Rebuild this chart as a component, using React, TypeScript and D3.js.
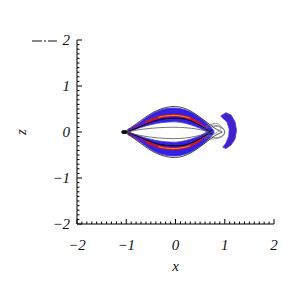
import { scaleLinear, line, area, curveCatmullRom, curveLinearClosed } from "d3";

// upper half of the lens-shaped density band (lower half is mirrored)
const bandX = [-1.02, -0.9, -0.7, -0.5, -0.3, -0.1, 0.1, 0.3, 0.5, 0.65, 0.78];
const bandOuter = [0, 0.08, 0.23, 0.38, 0.48, 0.52, 0.51, 0.44, 0.31, 0.18, 0.03];
const bandInner = [0, 0.03, 0.1, 0.16, 0.2, 0.22, 0.21, 0.16, 0.08, 0.0, 0.0];

// hot core of the band
const coreX = [-0.95, -0.7, -0.5, -0.3, -0.1, 0.1, 0.3, 0.5, 0.65];
const coreZ = [0.03, 0.15, 0.26, 0.33, 0.36, 0.35, 0.29, 0.18, 0.08];
const redX = [-0.6, -0.4, -0.2, 0, 0.2, 0.4, 0.52];
const redZ = [0.21, 0.3, 0.35, 0.36, 0.33, 0.24, 0.16];
const orangeX = [-0.35, -0.2, 0, 0.2, 0.3];
const orangeZ = [0.32, 0.35, 0.36, 0.33, 0.3];

// field lines
const outerX = [-1.05, -0.9, -0.7, -0.5, -0.3, -0.1, 0.1, 0.3, 0.5, 0.65, 0.8, 0.95];
const outerZ = [0, 0.1, 0.25, 0.4, 0.5, 0.55, 0.54, 0.46, 0.32, 0.2, 0.08, 0.0];
const midX = [-1.0, -0.8, -0.6, -0.4, -0.2, 0, 0.2, 0.4, 0.6, 0.75];
const midZ = [0, 0.08, 0.17, 0.25, 0.29, 0.3, 0.28, 0.2, 0.08, -0.05];
const innerX = [-1.0, -0.8, -0.5, -0.2, 0.1, 0.4, 0.6, 0.75];
const innerZ = [0, 0.04, 0.08, 0.1, 0.1, 0.07, 0.03, 0];

const loopX = [0.55, 0.7, 0.85, 0.97, 1.0, 0.95, 0.85, 0.7, 0.55];
const loopZ = [0.12, 0.15, 0.14, 0.08, 0, -0.08, -0.12, -0.1, -0.05];
const loop2X = [0.6, 0.75, 0.88, 0.93, 0.88, 0.75, 0.62];
const loop2Z = [-0.1, -0.06, 0.02, 0.1, 0.17, 0.18, 0.1];

// crescent on the right
const crescX = [0.92, 1.025, 1.13, 1.21, 1.24, 1.21, 1.13, 1.025, 0.96, 1.025, 1.08, 1.09, 1.045, 0.96];
const crescZ = [0.35, 0.42, 0.37, 0.22, 0.04, -0.15, -0.28, -0.36, -0.33, -0.24, -0.09, 0.065, 0.22, 0.3];
const crescMidX = [1.0, 1.1, 1.16, 1.17, 1.13, 1.04];
const crescMidZ = [0.36, 0.28, 0.12, -0.05, -0.2, -0.3];

const majorTicks = [-2, -1, 0, 1, 2];

const zip = (xs: number[], zs: number[], s = 1) => xs.map((v, i) => [v, zs[i] * s] as [number, number]);

export default function App() {
  const W = 293, H = 285;
  const x = scaleLinear().domain([-2, 2]).range([77, 274]);
  const z = scaleLinear().domain([-2, 2]).range([224, 40]);
  const ln = line<[number, number]>().x(d => x(d[0])).y(d => z(d[1])).curve(curveCatmullRom);
  const band = (s: number) =>
    area<number>()
      .x((_, i) => x(bandX[i]))
      .y0((_, i) => z(bandInner[i] * s))
      .y1((_, i) => z(bandOuter[i] * s))
      .curve(curveCatmullRom)(bandX);
  const cresc = line<[number, number]>().x(d => x(d[0])).y(d => z(d[1])).curve(curveLinearClosed);
  const minor = x.ticks(40);
  const font = "'Liberation Serif', 'DejaVu Serif', serif";

  return (
    <svg width={W} height={H} style={{ position: "absolute", left: 0, top: 0, background: "#fff" }}>
      {/* density bands */}
      {[1, -1].map(s => (
        <g key={s}>
          <path d={band(s) ?? ""} fill="#3421e0" stroke="#4a3cf0" strokeWidth={0.8} />
          <path d={ln(zip(coreX, coreZ, s)) ?? ""} fill="none" stroke="#6a1cb8" strokeWidth={3.5} />
          <path d={ln(zip(redX, redZ, s)) ?? ""} fill="none" stroke="#d0141a" strokeWidth={2.2} />
          <path d={ln(zip(orangeX, orangeZ, s)) ?? ""} fill="none" stroke="#ff8a10" strokeWidth={1} />
        </g>
      ))}
      <path d={cresc(zip(crescX, crescZ)) ?? ""} fill="#3a22d8" stroke="#4a3cf0" strokeWidth={0.8} />
      <path d={ln(zip(crescMidX, crescMidZ)) ?? ""} fill="none" stroke="#5a1ab0" strokeWidth={1.5} />

      {/* field lines */}
      {[1, -1].map(s => (
        <g key={"f" + s} fill="none">
          <path d={ln(zip(outerX, outerZ, s)) ?? ""} stroke="#333" strokeWidth={0.9} />
          <path d={ln(zip(midX, midZ, s)) ?? ""} stroke="#000" strokeWidth={1} />
          <path d={ln(zip(innerX, innerZ, s * (s < 0 ? 1.4 : 1))) ?? ""} stroke="#555" strokeWidth={0.8} />
          <path d={ln(zip(loopX, loopZ, s)) ?? ""} stroke="#666" strokeWidth={0.7} />
        </g>
      ))}
      <path d={ln(zip(loop2X, loop2Z)) ?? ""} fill="none" stroke="#777" strokeWidth={0.7} />
      <ellipse cx={x(-1.04)} cy={z(0)} rx={3} ry={2} fill="#111" />

      {/* stray dash-dot line */}
      <line x1={32} x2={57} y1={41} y2={41} stroke="#888" strokeWidth={2} strokeDasharray="10 2 2 2" />

      {/* axes */}
      <line x1={x(-2)} x2={x(2)} y1={z(-2)} y2={z(-2)} stroke="#000" />
      <line x1={x(-2)} x2={x(-2)} y1={z(-2)} y2={z(2)} stroke="#000" />
      {minor.map(t => {
        const major = majorTicks.some(m => Math.abs(m - t) < 1e-6);
        const len = major ? 5 : 2.5;
        return (
          <g key={"t" + t} stroke="#000" strokeWidth={1}>
            <line x1={x(t)} x2={x(t)} y1={z(-2)} y2={z(-2) - len} />
            <line x1={x(-2)} x2={x(-2) + len} y1={z(t)} y2={z(t)} />
          </g>
        );
      })}
      {majorTicks.map(t => (
        <text key={"xl" + t} x={x(t)} y={250} textAnchor="middle" fontFamily={font} fontStyle="italic" fontSize={15} fill="#111">
          {t < 0 ? "\u2212" + Math.abs(t) : t}
        </text>
      ))}
      {majorTicks.map(t => (
        <text key={"yl" + t} x={70} y={z(t) + 5} textAnchor="end" fontFamily={font} fontStyle="italic" fontSize={15} fill="#111">
          {t < 0 ? "\u2212" + Math.abs(t) : t}
        </text>
      ))}
      <text x={x(0)} y={271} textAnchor="middle" fontFamily={font} fontStyle="italic" fontSize={15} fill="#111">x</text>
      <text transform={`translate(26,${z(0)}) rotate(-90)`} textAnchor="middle" fontFamily={font} fontStyle="italic" fontSize={15} fill="#111">z</text>
    </svg>
  );
}
